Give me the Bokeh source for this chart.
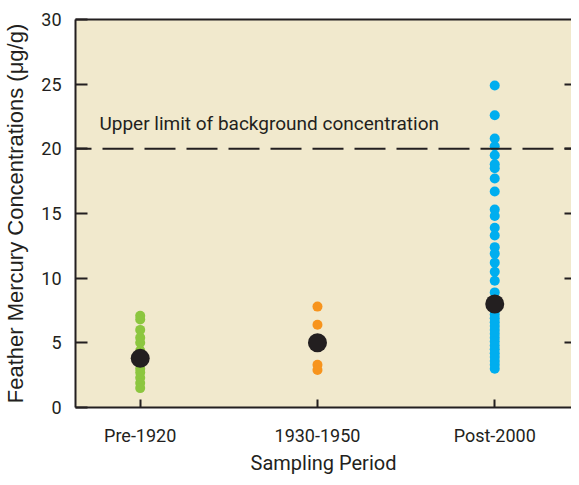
from bokeh.plotting import figure
from bokeh.models import Range1d, LinearAxis, Span, Label, FixedTicker
from bokeh.embed import file_html
from bokeh.resources import INLINE

categories = ["Pre-1920", "1930-1950", "Post-2000"]
pre1920 = [7.1, 6.8, 6.0, 5.4, 5.0, 4.4, 3.5, 3.0, 2.7, 2.3, 1.9, 1.5]
mid1930_1950 = [7.8, 6.4, 4.8, 3.3, 2.9]
post2000 = [24.9, 22.6, 20.8, 20.2, 19.5, 18.8, 18.5, 17.7, 16.7, 15.3, 14.8,
            13.9, 13.3, 12.4, 11.9, 11.2, 10.5, 9.8, 8.9,
            7.5, 7.2, 6.9, 6.6, 6.3, 6.0, 5.7, 5.4, 5.1, 4.8, 4.5, 4.2,
            3.9, 3.6, 3.3, 3.0]
means = [3.8, 5.0, 8.0]
threshold = 20
threshold_label = "Upper limit of background concentration"
colors = ["#8CC63F", "#F7941D", "#00AEEF"]

BG = "#F1E9CD"
INK = "#231F20"
NARROW = "Roboto"

p = figure(width=571, height=477, output_backend="svg", toolbar_location=None,
           x_range=Range1d(0.635, 3.433), y_range=Range1d(0, 30),
           x_axis_location=None, y_axis_location=None)
p.min_border_left = 66
p.min_border_top = 19
p.min_border_bottom = 0
p.min_border_right = 0
p.background_fill_color = BG
p.border_fill_color = "white"
p.outline_line_color = None
p.grid.visible = False

# left axis
ya = LinearAxis(ticker=FixedTicker(ticks=[0, 5, 10, 15, 20, 25, 30]))
ya.axis_label = "Feather Mercury Concentrations (\u03bcg/g)"
ya.axis_label_text_font = "Liberation Sans"
ya.axis_label_text_font_style = "normal"
ya.axis_label_text_font_size = "22px"
ya.axis_label_text_color = INK
ya.axis_label_standoff = 10
ya.major_label_text_font = NARROW
ya.major_label_text_font_size = "18px"
ya.major_label_text_color = INK
ya.major_label_standoff = 14
ya.major_tick_in = 12
ya.major_tick_out = 0
ya.major_tick_line_width = 2
ya.major_tick_line_color = INK
ya.minor_tick_line_color = None
ya.axis_line_width = 2
ya.axis_line_color = INK
p.add_layout(ya, "left")

# bottom axis
xa = LinearAxis(ticker=FixedTicker(ticks=[1, 2, 3]))
xa.major_label_overrides = {i + 1: c for i, c in enumerate(categories)}
xa.axis_label = "Sampling Period"
xa.axis_label_text_font = NARROW
xa.axis_label_text_font_style = "normal"
xa.axis_label_text_font_size = "20px"
xa.axis_label_text_color = INK
xa.axis_label_standoff = 2
xa.major_label_text_font = NARROW
xa.major_label_text_font_size = "18px"
xa.major_label_text_color = INK
xa.major_label_standoff = 17
xa.major_tick_in = 8
xa.major_tick_out = 0
xa.major_tick_line_width = 2
xa.major_tick_line_color = INK
xa.minor_tick_line_color = None
xa.axis_line_width = 2
xa.axis_line_color = INK
p.add_layout(xa, "below")

# top border
ta = LinearAxis(ticker=FixedTicker(ticks=[]))
ta.major_label_text_font_size = "0px"
ta.major_tick_line_color = None
ta.minor_tick_line_color = None
ta.major_label_standoff = 0
ta.axis_line_width = 2
ta.axis_line_color = INK
p.add_layout(ta, "above")

# right ticks
ra = LinearAxis(ticker=FixedTicker(ticks=[5, 10, 15, 20, 25]))
ra.major_label_text_font_size = "0px"
ra.major_label_text_color = None
ra.major_label_standoff = 0
ra.major_tick_in = 7
ra.major_tick_out = 0
ra.major_tick_line_width = 2
ra.major_tick_line_color = INK
ra.minor_tick_line_color = None
ra.axis_line_color = None
p.add_layout(ra, "right")

# threshold line
p.add_layout(Span(location=threshold, dimension="width", line_color=INK,
                  line_width=2, line_dash="31 11", line_dash_offset=15))
p.add_layout(Label(x=0.77, y=threshold, text=threshold_label, y_offset=14,
                   text_font=NARROW, text_font_size="19px", text_color=INK,
                   text_baseline="bottom"))

for i, vals in enumerate([pre1920, mid1930_1950, post2000]):
    p.scatter([i + 1] * len(vals), vals, size=10, fill_color=colors[i],
              line_color=None)
p.scatter([1, 2, 3], means, size=19, fill_color=INK, line_color=None)

open("out.html", "w").write(file_html(p, INLINE))
